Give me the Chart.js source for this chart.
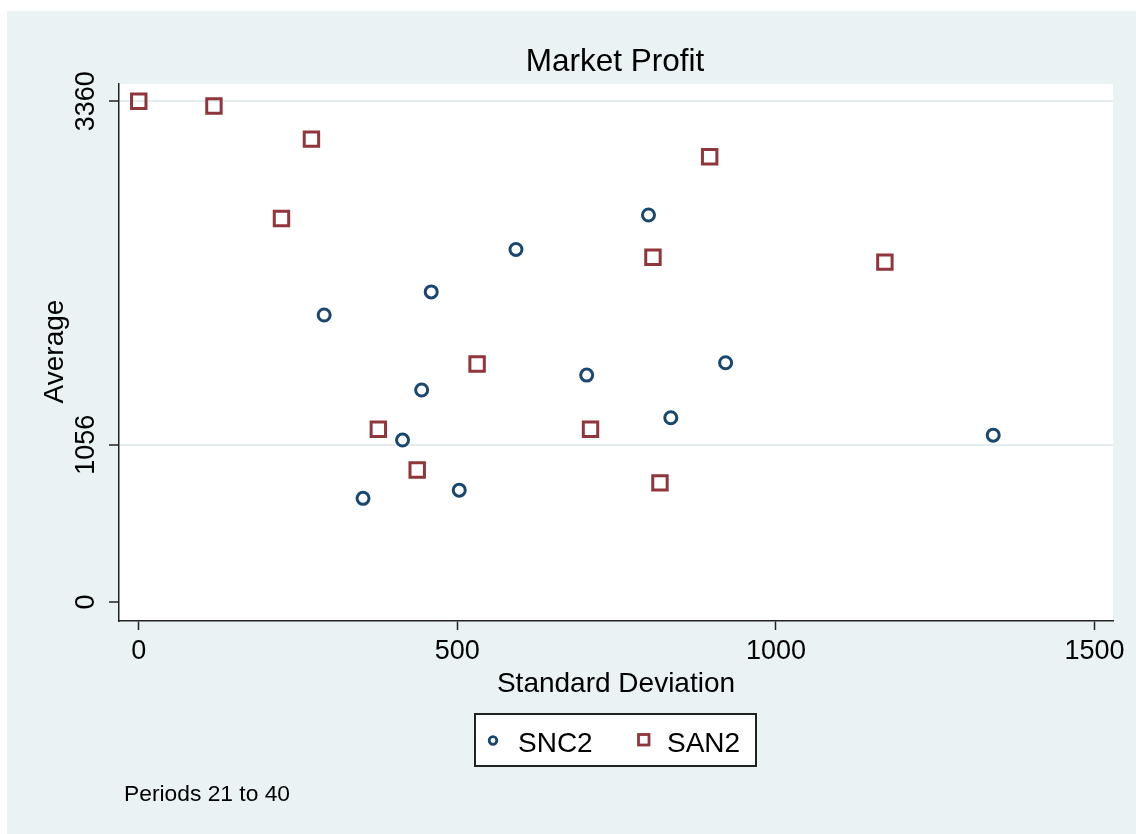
<!DOCTYPE html>
<html>
<head>
<meta charset="utf-8">
<script src="https://cdn.jsdelivr.net/npm/chart.js@4.4.1/dist/chart.umd.min.js"></script>
<style>
  html, body { margin: 0; padding: 0; background: #ffffff; }
  #wrap { position: relative; width: 1136px; height: 834px; }
</style>
</head>
<body>
<div id="wrap"><canvas id="c"></canvas></div>
<script>
// ---- data ----
const chartTitle = "Market Profit";
const xAxisTitle = "Standard Deviation";
const yAxisTitle = "Average";
const noteText = "Periods 21 to 40";
const seriesNames = ["SNC2", "SAN2"];

const snc2X = [800, 592, 459, 291, 921, 703, 444, 835, 414, 1341, 503, 352];
const snc2Y = [2597, 2366, 2081, 1926, 1606, 1523, 1423, 1237, 1087, 1120, 751, 696];

const san2X = [0, 118, 271, 224, 896, 807, 1171, 531, 376, 709, 437, 818];
const san2Y = [3360, 3328, 3106, 2574, 2988, 2313, 2281, 1597, 1159, 1159, 886, 800];

const xTicks = [0, 500, 1000, 1500];
const yTicks = [0, 1056, 3360];

// ---- styles ----
const FONT = '"Liberation Sans", Arial, Helvetica, sans-serif';
const NAVY = '#1a476f';
const MAROON = '#90353b';
const BG = '#eaf2f3';
const GRID = '#e3edef';

const toPts = (xs, ys) => xs.map((x, i) => ({ x: x, y: ys[i] }));

const decorPlugin = {
  id: 'decor',
  beforeDraw(chart) {
    const { ctx, chartArea: a } = chart;
    ctx.save();
    ctx.fillStyle = '#ffffff';
    ctx.fillRect(0, 0, chart.width, chart.height);
    ctx.fillStyle = BG;
    ctx.fillRect(7, 11, chart.width - 7, chart.height - 11);
    ctx.fillStyle = '#ffffff';
    ctx.fillRect(a.left, a.top, a.right - a.left, a.bottom - a.top);
    ctx.restore();
  },
  afterDraw(chart) {
    const { ctx, chartArea: a } = chart;
    const ys = chart.scales.y;
    const cx = (a.left + a.right) / 2;
    ctx.save();
    ctx.fillStyle = '#000';
    // title
    ctx.font = '31.5px ' + FONT;
    ctx.textAlign = 'center';
    ctx.textBaseline = 'alphabetic';
    ctx.fillText(chartTitle, cx - 1, 71);
    // x axis title
    ctx.font = '28px ' + FONT;
    ctx.fillText(xAxisTitle, cx, 692);
    // y tick labels (rotated)
    ctx.font = '27px ' + FONT;
    yTicks.forEach(v => {
      const py = ys.getPixelForValue(v);
      ctx.save();
      ctx.translate(93.5, py);
      ctx.rotate(-Math.PI / 2);
      ctx.textAlign = 'center';
      ctx.fillText(String(v), 0, 0);
      ctx.restore();
    });
    // y axis title
    ctx.font = '28px ' + FONT;
    ctx.save();
    ctx.translate(63, (a.top + a.bottom) / 2 - 1);
    ctx.rotate(-Math.PI / 2);
    ctx.textAlign = 'center';
    ctx.fillText(yAxisTitle, 0, 0);
    ctx.restore();

    // legend box
    ctx.fillStyle = '#ffffff';
    ctx.fillRect(475, 714, 281, 52);
    ctx.strokeStyle = '#222';
    ctx.lineWidth = 2;
    ctx.strokeRect(475, 714, 281, 52);
    // legend markers
    const ds = chart.data.datasets;
    ctx.lineWidth = 2.8;
    ctx.strokeStyle = ds[0].borderColor;
    ctx.beginPath();
    ctx.arc(493, 740.5, 3.8, 0, Math.PI * 2);
    ctx.stroke();
    ctx.strokeStyle = ds[1].borderColor;
    ctx.strokeRect(638.5, 734.5, 10.5, 10.5);
    // legend text
    ctx.fillStyle = '#000';
    ctx.font = '28px ' + FONT;
    ctx.textAlign = 'left';
    ctx.fillText(seriesNames[0], 518, 752);
    ctx.fillText(seriesNames[1], 667, 752);
    // note
    ctx.font = '22.8px ' + FONT;
    ctx.fillText(noteText, 124, 801);
    ctx.restore();
  }
};

new Chart(document.getElementById('c'), {
  type: 'scatter',
  data: {
    datasets: [
      {
        label: seriesNames[0],
        data: toPts(snc2X, snc2Y),
        pointStyle: 'circle',
        radius: 6,
        borderWidth: 3,
        borderColor: NAVY,
        backgroundColor: 'rgba(0,0,0,0)'
      },
      {
        label: seriesNames[1],
        data: toPts(san2X, san2Y),
        pointStyle: 'rect',
        radius: 10.2,
        borderWidth: 3,
        borderColor: MAROON,
        backgroundColor: 'rgba(0,0,0,0)'
      }
    ]
  },
  options: {
    responsive: true,
    maintainAspectRatio: false,
    animation: false,
    events: [],
    layout: { padding: { left: 0, right: 23, top: 84, bottom: 0 } },
    plugins: {
      legend: { display: false },
      title: { display: false },
      tooltip: { enabled: false }
    },
    scales: {
      x: {
        type: 'linear',
        min: -31,
        max: 1529,
        afterBuildTicks: s => { s.ticks = xTicks.map(v => ({ value: v })); },
        afterFit: s => { s.height = 213; },
        grid: {
          drawOnChartArea: false,
          drawTicks: true,
          tickLength: 9,
          tickColor: '#222',
          tickWidth: 1.5
        },
        border: { display: true, color: '#222', width: 1.5 },
        ticks: {
          color: '#000',
          font: { family: FONT, size: 27, lineHeight: 1 },
          padding: 8,
          maxRotation: 0,
          minRotation: 0,
          callback: v => String(v)
        }
      },
      y: {
        type: 'linear',
        min: -127,
        max: 3476,
        afterBuildTicks: s => { s.ticks = yTicks.map(v => ({ value: v })); },
        afterFit: s => { s.width = 119; },
        grid: {
          drawOnChartArea: true,
          drawTicks: true,
          tickLength: 10,
          color: ctx => (ctx.tick && ctx.tick.value === 0) ? 'rgba(0,0,0,0)' : GRID,
          lineWidth: 2,
          tickColor: '#222',
          tickWidth: 1.5
        },
        border: { display: true, color: '#222', width: 1.5 },
        ticks: { display: false }
      }
    }
  },
  plugins: [decorPlugin]
});
</script>
</body>
</html>
